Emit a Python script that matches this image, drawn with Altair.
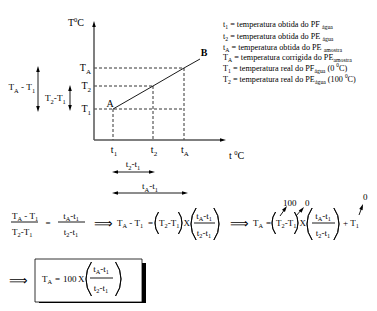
import math
import re
import altair as alt
import pandas as pd

SERIF = "Liberation Serif"

# ---------------- diagram values (pixel positions on the canvas) ----------------
t_names = ["t_{1}", "t_{2}", "t_{A}"]
t_pos = [113, 153, 184]
T_names = ["T_{1}", "T_{2}", "T_{A}"]
T_pos = [109, 86, 68]
curve_x = [113, 153, 184, 200]
curve_y = [109, 86, 68, 59]

legend_lines = [
    "t_{1} = temperatura obtida do PF _{água}",
    "t_{2} = temperatura obtida do PE _{água}",
    "t_{A} = temperatura obtida do PE _{amostra}",
    "T_{A} = temperatura corrigida do PE_{amostra}",
    "T_{1} = temperatura real do PF_{água} (0 ^{0}C)",
    "T_{2} = temperatura real do PE_{água} (100 ^{0}C)",
]
legend_y = [24, 36, 47, 57, 68, 79]

# ---------------- text layout helpers ----------------
W = {' ': 250, '(': 333, ')': 333, '-': 333, '=': 564, '+': 564,
     'A': 722, 'B': 667, 'C': 667, 'E': 611, 'F': 556, 'P': 556, 'T': 611, 'X': 722,
     'a': 444, 'b': 500, 'c': 444, 'd': 500, 'e': 444, 'g': 500, 'i': 278, 'l': 278,
     'm': 778, 'n': 500, 'o': 500, 'p': 500, 'r': 333, 's': 389, 't': 278, 'u': 500,
     'á': 444}


def width(s, size):
    return sum(W.get(c, 500) for c in s) * size / 1000.0


def parse(s):
    out = []
    for tok in re.split(r'(_\{[^}]*\}|\^\{[^}]*\})', s):
        if not tok:
            continue
        if tok.startswith('_{'):
            out.append((tok[2:-1], 's'))
        elif tok.startswith('^{'):
            out.append((tok[2:-1], 'p'))
        else:
            out.append((tok, 'n'))
    return out


def build(x, yc, s, size, align="left"):
    parts = parse(s)
    sizes = []
    for text, kind in parts:
        sizes.append(size if kind == 'n' else (size * 0.7 if kind == 's' else size * 0.65))
    total = sum(width(t, fs) for (t, _), fs in zip(parts, sizes))
    if align == "center":
        x -= total / 2
    elif align == "right":
        x -= total
    base = yc + 0.33 * size
    rows = []
    for (text, kind), fs in zip(parts, sizes):
        by = base if kind == 'n' else (base + 0.28 * size if kind == 's' else base - 0.42 * size)
        lead = len(text) - len(text.lstrip(' '))
        xx = x + width(' ' * lead, fs)
        if text.strip():
            rows.append(dict(x=xx, y=by, text=text.strip(), size=fs))
        x += width(text, fs)
    return rows


texts = []
# axis labels
texts += build(68, 23, "T^{0}C", 10)
texts += build(229, 156, "t ^{0}C", 10)
for n, p in zip(T_names, T_pos):
    texts += build(91, p, n, 10, "right")
for n, p in zip(t_names, t_pos):
    texts += build(p + 1, 150, n, 10, "center")
texts += build(110, 104, "A", 10, "center")
# difference labels
texts += build(8.5, 87, "T_{A} - T_{1}", 9.2)
texts += build(45, 98, "T_{2}-T_{1}", 9.2)
texts += build(133, 164, "t_{2}-t_{1}", 9.2, "center")
texts += build(150, 186, "t_{A}-t_{1}", 9.2, "center")
# legend
for s, yy in zip(legend_lines, legend_y):
    texts += build(223, yy, s, 8.2)

F = 9
# formula row
texts += build(12, 216, "T_{A} - T_{1}", F)
texts += build(12, 232, "T_{2}-T_{1}", F)
texts += build(48, 223, "=", F, "center")
texts += build(71, 216, "t_{A}-t_{1}", F, "center")
texts += build(71, 232, "t_{2}-t_{1}", F, "center")
texts += build(117, 223, "T_{A} - T_{1}", F)
texts += build(148, 223, "=", F)
texts += build(159, 223, "T_{2}-T_{1}", F)
texts += build(183.5, 223, "X", F)
texts += build(204, 216, "t_{A}-t_{1}", F, "center")
texts += build(204, 233, "t_{2}-t_{1}", F, "center")
texts += build(253, 223, "T_{A}", F)
texts += build(266, 223, "=", F)
texts += build(276, 223, "T_{2}-T_{1}", F)
texts += build(299.5, 223, "X", F)
texts += build(323, 216, "t_{A}-t_{1}", F, "center")
texts += build(323, 233, "t_{2}-t_{1}", F, "center")
texts += build(343, 223, "+ T_{1}", F)
texts += build(283, 203, "100", F)
texts += build(305, 203, "0", F)
texts += build(363, 197, "0", F)
# boxed result
texts += build(42, 279, "T_{A}", F)
texts += build(55, 279, "=", F)
texts += build(63, 279, "100", F)
texts += build(78, 279, "X", F)
texts += build(101, 269, "t_{A}-t_{1}", F, "center")
texts += build(101, 288, "t_{2}-t_{1}", F, "center")
text_df = pd.DataFrame(texts)

bold_df = pd.DataFrame([dict(x=204, y=55.5, text="B", size=10)])
imp_df = pd.DataFrame([dict(x=94, y=227.5, text="⟹"), dict(x=230, y=227.5, text="⟹"),
                       dict(x=9, y=284.5, text="⟹")])

# ---------------- lines ----------------
axis_df = pd.DataFrame([dict(x=94, y=140, x2=94, y2=25), dict(x=94, y=140, x2=222, y2=140)])
dash = [dict(x=94, y=68, x2=184, y2=68),
        dict(x=94, y=86, x2=153, y2=86),
        dict(x=94, y=109, x2=184, y2=109)]
for tp, Tp in zip(t_pos, T_pos):
    dash.append(dict(x=tp, y=Tp, x2=tp, y2=140))
dash_df = pd.DataFrame(dash)

solid = [
    dict(x=38, y=69, x2=38, y2=109), dict(x=70, y=88, x2=70, y2=108),
    dict(x=115, y=172, x2=152, y2=172), dict(x=115, y=193, x2=185, y2=193),
    dict(x=280, y=216, x2=285, y2=209), dict(x=296, y=216, x2=302, y2=209),
    dict(x=359, y=215, x2=362, y2=207),
    # fraction bars
    dict(x=11, y=222, x2=38, y2=222), dict(x=58, y=222, x2=85, y2=222),
    dict(x=194, y=223, x2=215, y2=223), dict(x=312, y=223, x2=335, y2=223),
    dict(x=90, y=278, x2=113, y2=278),
]
solid_df = pd.DataFrame(solid)

curve_df = pd.DataFrame(dict(x=curve_x, y=curve_y))

# arrow heads: tip, direction (deg clockwise from up)
HEAD = 36
heads = [(94, 21, 0), (226, 140, 90), (38, 66, 0), (38, 112, 180), (70, 85, 0), (70, 111, 180),
         (112, 172, 270), (155, 172, 90), (112, 193, 270), (188, 193, 90),
         (287, 206, 36), (304, 207, 40), (363, 204, 20)]
hrows = []
for tx, ty, a in heads:
    r = math.sqrt(HEAD) / 2
    hrows.append(dict(x=tx - math.sin(math.radians(a)) * r, y=ty + math.cos(math.radians(a)) * r, ang=a))
head_df = pd.DataFrame(hrows)

# parentheses as thin arcs: (edge x, centre y, height, side)
parens = [(155, 223, 22, "L"), (182, 223, 22, "R"), (191, 224, 32, "L"), (219, 224, 32, "R"),
          (272, 223, 22, "L"), (298, 223, 22, "R"), (307, 224, 32, "L"), (339, 224, 32, "R"),
          (86, 279, 34, "L"), (121, 279, 34, "R")]
prow = []
A = 0.62
for ex, cy, h, side in parens:
    R = h / (2 * math.sin(A))
    if side == "L":
        prow.append(dict(x=ex + R, y=cy, t0=1.5 * math.pi - A, t1=1.5 * math.pi + A, r=R, r2=R))
    else:
        prow.append(dict(x=ex - R, y=cy, t0=0.5 * math.pi - A, t1=0.5 * math.pi + A, r=R, r2=R))
paren_df = pd.DataFrame(prow)

box_df = pd.DataFrame([dict(x=35, y=259, x2=142, y2=302)])
shadow_df = pd.DataFrame([dict(x=39, y=263, x2=146, y2=306)])

# ---------------- chart ----------------
xs = alt.Scale(domain=[8, 369], range=[0, 361])
ys = alt.Scale(domain=[8, 303], range=[0, 295])


def X(f="x"):
    return alt.X(f, type="quantitative", scale=xs, axis=None)


def Y(f="y"):
    return alt.Y(f, type="quantitative", scale=ys, axis=None)


def rules(df, **kw):
    return alt.Chart(df).mark_rule(**kw).encode(x=X(), y=Y(), x2="x2", y2="y2")


shadow = alt.Chart(shadow_df).mark_rect(color="black").encode(x=X(), y=Y(), x2="x2", y2="y2")
box = alt.Chart(box_df).mark_rect(fill="white", stroke="black", strokeWidth=0.8).encode(
    x=X(), y=Y(), x2="x2", y2="y2")
axes = rules(axis_df, color="#555555", strokeWidth=1.5)
dashed = rules(dash_df, color="black", strokeWidth=0.8, strokeDash=[3, 2])
solids = rules(solid_df, color="black", strokeWidth=0.9)
curve = alt.Chart(curve_df).mark_line(color="black", strokeWidth=0.9).encode(x=X(), y=Y())
arcs = alt.Chart(paren_df).mark_arc(filled=False, stroke="black", strokeWidth=0.9).encode(
    x=X(), y=Y(),
    theta=alt.Theta("t0:Q", scale=None, stack=False), theta2="t1:Q",
    radius=alt.Radius("r:Q", scale=None), radius2="r2:Q")
heads_layer = alt.Chart(head_df).mark_point(
    filled=True, color="black", opacity=1, strokeWidth=0, size=HEAD,
    shape="M0,-1L0.6,1L-0.6,1Z").encode(x=X(), y=Y(), angle=alt.Angle("ang:Q", scale=None))
txt = alt.Chart(text_df).mark_text(align="left", baseline="alphabetic", font=SERIF,
                                   color="black").encode(
    x=X(), y=Y(), text="text:N", size=alt.Size("size:Q", scale=None))
btxt = alt.Chart(bold_df).mark_text(align="center", baseline="alphabetic", font=SERIF,
                                    fontWeight="bold", color="black").encode(
    x=X(), y=Y(), text="text:N", size=alt.Size("size:Q", scale=None))
imp = alt.Chart(imp_df).mark_text(align="left", baseline="alphabetic", font="DejaVu Sans",
                                  fontSize=13, color="black").encode(x=X(), y=Y(), text="text:N")

chart = alt.layer(shadow, box, dashed, axes, solids, curve, arcs, heads_layer, txt, btxt, imp).properties(
    width=361, height=295, padding=0, autosize=alt.AutoSizeParams(type="none")
).configure_view(stroke=None)

chart.save("out.html", embed_options={"renderer": "svg", "actions": False})
